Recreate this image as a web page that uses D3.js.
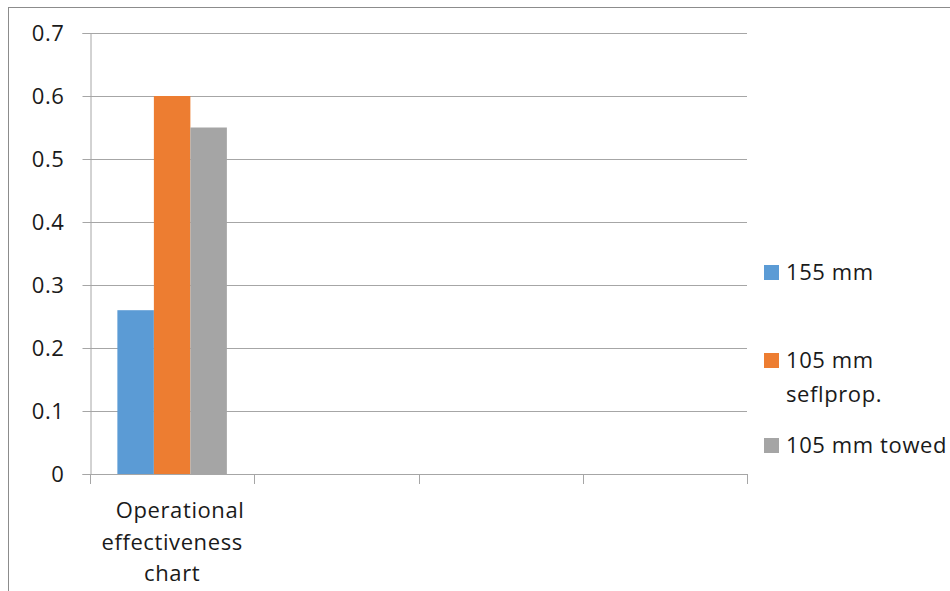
<!DOCTYPE html>
<html>
<head>
<meta charset="utf-8">
<script src="https://cdn.jsdelivr.net/npm/d3@7"></script>
<style>
  body { margin: 0; background: #fff; }
  svg text { font-family: "Open Sans", sans-serif; fill: #1a1a1a; letter-spacing: 0.6px; }
</style>
</head>
<body>
<div id="chart"></div>
<script>
// categories along x (only the first one has a label and data)
const categories = [["Operational", "effectiveness", "chart"], [], [], []];
// series names and their values per category
const seriesNames = ["155 mm", "105 mm seflprop.", "105 mm towed"];
const seriesColors = ["#5B9BD5", "#ED7D31", "#A5A5A5"];
const values155 = [0.26];
const values105self = [0.6];
const values105towed = [0.55];
const yTicks = [0, 0.1, 0.2, 0.3, 0.4, 0.5, 0.6, 0.7];
// legend lines (second entry wraps)
const legendLines = [["155 mm"], ["105 mm", "seflprop."], ["105 mm towed"]];

const seriesValues = [values155, values105self, values105towed];

const W = 950, H = 591;
const svg = d3.select("#chart").append("svg")
  .attr("width", W)
  .attr("height", H);

// outer chart border (cut off at right and bottom like the screenshot)
svg.append("rect")
  .attr("x", 8.5).attr("y", 7.5)
  .attr("width", 1000).attr("height", 700)
  .attr("fill", "none")
  .attr("stroke", "#8c8c8c")
  .attr("stroke-width", 1);

const plot = {left: 90, right: 747, top: 33, bottom: 474};

const x0 = d3.scaleBand()
  .domain(d3.range(categories.length))
  .range([plot.left, plot.right])
  .padding(0);

const x1 = d3.scaleBand()
  .domain(d3.range(seriesNames.length))
  .range([0, x0.bandwidth()])
  .paddingInner(0)
  .paddingOuter(0.75);

const y = d3.scaleLinear()
  .domain([0, 0.7])
  .range([plot.bottom, plot.top]);

// gridlines
svg.append("g")
  .selectAll("line")
  .data(yTicks.filter(d => d > 0))
  .join("line")
  .attr("x1", plot.left).attr("x2", plot.right)
  .attr("y1", d => Math.round(y(d)) + 0.5)
  .attr("y2", d => Math.round(y(d)) + 0.5)
  .attr("stroke", "#a6a6a6");

// bars
const catG = svg.append("g")
  .selectAll("g")
  .data(categories.map((c, i) => i))
  .join("g")
  .attr("transform", i => `translate(${x0(i)},0)`);

catG.selectAll("rect")
  .data(i => seriesValues.map((vals, s) => ({s, v: vals[i]})).filter(d => d.v != null))
  .join("rect")
  .attr("x", d => x1(d.s))
  .attr("width", x1.bandwidth())
  .attr("y", d => y(d.v))
  .attr("height", d => y(0) - y(d.v))
  .attr("fill", d => seriesColors[d.s]);

// y axis
const yAxis = svg.append("g")
  .attr("transform", `translate(${plot.left + 0.5},0)`)
  .call(d3.axisLeft(y).tickValues(yTicks).tickSize(8).tickPadding(18).tickFormat(d3.format("")));
yAxis.select(".domain").attr("stroke", "#a6a6a6");
yAxis.selectAll(".tick line").attr("stroke", "#a6a6a6");
yAxis.selectAll(".tick text")
  .style("font-size", "22px")
  .style("font-family", "Open Sans, sans-serif")
  .attr("fill", "#1a1a1a");

// x axis: line at zero, ticks on category boundaries
const xBounds = d3.range(categories.length).map(i => x0(i)).concat([x0.range()[1]]);
const xAxis = svg.append("g");
xAxis.append("line")
  .attr("x1", plot.left).attr("x2", plot.right)
  .attr("y1", Math.round(y(0)) + 0.5).attr("y2", Math.round(y(0)) + 0.5)
  .attr("stroke", "#a6a6a6");
xAxis.selectAll(".xt")
  .data(xBounds)
  .join("line")
  .attr("class", "xt")
  .attr("x1", d => Math.round(d) + 0.5).attr("x2", d => Math.round(d) + 0.5)
  .attr("y1", Math.round(y(0))).attr("y2", Math.round(y(0)) + 10)
  .attr("stroke", "#a6a6a6");

// category labels (first line sits a little to the right in the original)
categories.forEach((lines, i) => {
  const cx = x0(i) + x0.bandwidth() / 2;
  const t = svg.append("text")
    .attr("text-anchor", "middle")
    .style("font-size", "22px");
  lines.forEach((ln, k) => {
    t.append("tspan")
      .attr("x", k === 0 ? cx + 8 : cx)
      .attr("y", 518 + k * 31.5)
      .text(ln);
  });
});

// legend
const legendY = [280, 368, 453];
const legend = svg.append("g");
legendLines.forEach((lines, s) => {
  legend.append("rect")
    .attr("x", 764).attr("y", legendY[s] - 15)
    .attr("width", 15).attr("height", 15)
    .attr("fill", seriesColors[s]);
  lines.forEach((ln, k) => {
    legend.append("text")
      .attr("x", 786)
      .attr("y", legendY[s] + k * 34)
      .style("font-size", "22px")
      .text(ln);
  });
});
</script>
</body>
</html>
